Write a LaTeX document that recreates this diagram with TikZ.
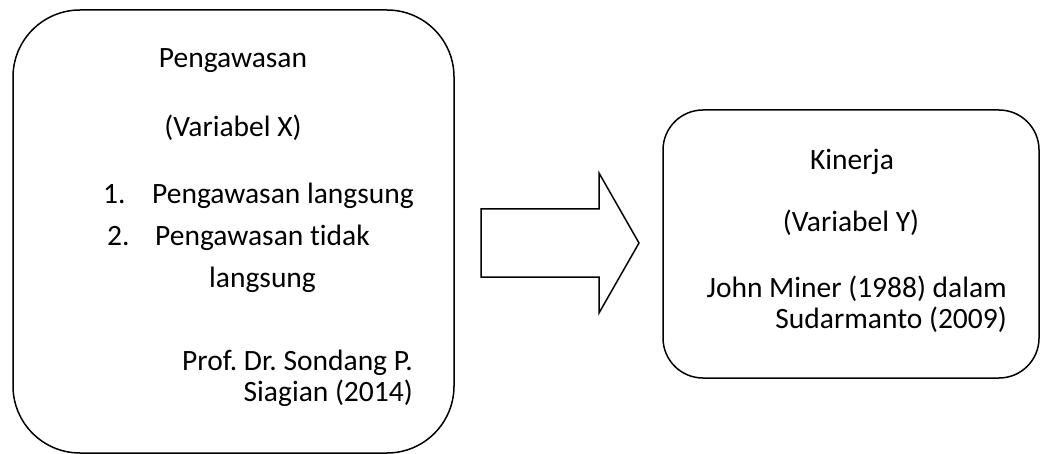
\documentclass[tikz,border=0pt]{standalone}
\usepackage{fontspec}
\setmainfont[Ligatures=NoCommon]{Carlito}
\frenchspacing
\usetikzlibrary{positioning}
\begin{document}
\begin{tikzpicture}[x=1pt,y=-1pt,
	kotak/.style={draw,line width=1.5pt,inner sep=0pt},
	teks/.style={inner sep=0pt,font=\fontsize{29.5}{35}\selectfont}]
		\useasboundingbox (0,0) rectangle (1040,454);
		\node[kotak,rounded corners=67pt,minimum width=441pt,minimum height=443pt](boxx) at (233.5,231.5){};
		\node[kotak,rounded corners=40pt,minimum width=376pt,minimum height=268pt](boxy) at (851,244){};
		% teks variabel X
		\node[teks,anchor=base](judulx) at (233,68){Pengawasan};
		\node[teks,anchor=base](varx) at (233,137){(Variabel X)};
		\node[teks,anchor=base west](no1) at (103,204){1.};
		\node[teks,anchor=base west](item1) at (152,204){Pengawasan langsung};
		\node[teks,anchor=base west](no2) at (107,245){2.};
		\node[teks,anchor=base west](item2) at (155,245){Pengawasan tidak};
		\node[teks,anchor=base west](item2b) at (209,287){langsung};
		\node[teks,anchor=base east](sumberx) at (413,370){Prof. Dr. Sondang P.};
		\node[teks,anchor=base east](sumberxb) at (413,401){Siagian (2014)};
		% teks variabel Y
		\node[teks,anchor=base](juduly) at (852,170){Kinerja};
		\node[teks,anchor=base](vary) at (851,232){(Variabel Y)};
		\node[teks,anchor=base east](sumbery) at (1007,297){John Miner (1988) dalam};
		\node[teks,anchor=base east](sumberyb) at (1007,328){Sudarmanto (2009)};
		% panah
		\draw[line width=1.5pt,line join=miter]
		(481,209) -- (599,209) -- (599,173) -- (639,243) -- (599,313) -- (599,277) -- (481,277) -- cycle;
\end{tikzpicture}
\end{document}
